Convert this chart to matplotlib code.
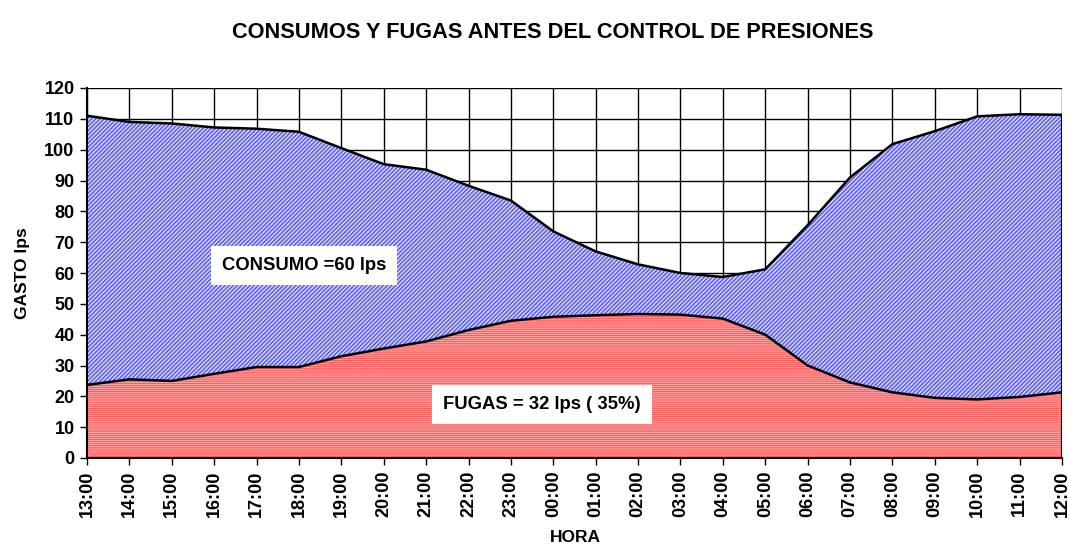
import matplotlib
matplotlib.use("Agg")
import matplotlib.pyplot as plt
import numpy as np

plt.rcParams['font.family'] = ['Liberation Sans', 'DejaVu Sans']
plt.rcParams['font.weight'] = 'bold'
plt.rcParams['hatch.linewidth'] = 1.0

horas = ["13:00", "14:00", "15:00", "16:00", "17:00", "18:00", "19:00", "20:00",
         "21:00", "22:00", "23:00", "00:00", "01:00", "02:00", "03:00", "04:00",
         "05:00", "06:00", "07:00", "08:00", "09:00", "10:00", "11:00", "12:00"]

# Gasto total suministrado (lps)
gasto_total = [111.0, 109.0, 108.5, 107.2, 106.8, 105.8, 100.5, 95.3,
               93.5, 88.3, 83.5, 73.5, 67.0, 62.8, 60.0, 58.7,
               61.2, 75.5, 91.0, 101.8, 106.0, 110.8, 111.5, 111.3]

# Fugas (lps)
fugas = [23.7, 25.5, 25.0, 27.3, 29.5, 29.5, 33.0, 35.5,
         37.8, 41.5, 44.5, 45.8, 46.3, 46.7, 46.5, 45.2,
         40.0, 30.0, 24.5, 21.3, 19.5, 19.0, 19.8, 21.3]

y_ticks = list(range(0, 121, 10))

fig = plt.figure(figsize=(10.69, 5.48), dpi=100)
ax = fig.add_axes([87 / 1069, (548 - 458) / 548, (1062 - 87) / 1069, (458 - 88) / 548])

x = np.arange(len(horas))

ax.set_axisbelow(True)
ax.grid(True, color='black', linewidth=1.0)

# Consumo: area between fugas and total
ax.fill_between(x, fugas, gasto_total, facecolor='#5c5cf6', edgecolor='#dadaff',
                hatch='////////', linewidth=0, zorder=2)
# Fugas: area from zero
ax.fill_between(x, 0, fugas, facecolor='#ff3e3e', edgecolor='#ffa0a0',
                hatch='--------', linewidth=0, zorder=2)

ax.plot(x, gasto_total, color='black', linewidth=1.8, zorder=3)
ax.plot(x, fugas, color='black', linewidth=1.8, zorder=3)
ax.vlines(x[-1], 0, gasto_total[-1], color='black', linewidth=1.5, zorder=3)

ax.set_xlim(0, len(horas) - 1)
ax.set_ylim(0, 120)
ax.set_yticks(y_ticks)
ax.set_xticks(x)
ax.set_xticklabels(horas, rotation=90, fontsize=13, fontweight='bold')
ax.set_yticklabels([str(v) for v in y_ticks], fontsize=13, fontweight='bold')
ax.tick_params(axis='both', length=5, width=1, color='black', pad=4)

for s in ['top', 'right']:
    ax.spines[s].set_visible(False)
for s in ['left', 'bottom']:
    ax.spines[s].set_linewidth(1.5)
    ax.spines[s].set_zorder(4)

ax.set_ylabel("GASTO lps", fontsize=12.5, fontweight='bold', labelpad=10)
fig.text(575 / 1069, 1 - 538 / 548, "HORA", fontsize=12.5, fontweight='bold',
         ha='center', va='center')

fig.suptitle("CONSUMOS Y FUGAS ANTES DEL CONTROL DE PRESIONES", fontsize=15.7,
             fontweight='bold', x=0.5175, y=1 - 32 / 548, va='center')

box = dict(boxstyle='square,pad=0.6', facecolor='white', edgecolor='none')
ax.text(5.12, 62.3, "CONSUMO =60 lps", fontsize=13.3, fontweight='bold',
        ha='center', va='center', bbox=box, zorder=5)
ax.text(10.74, 17.3, "FUGAS = 32 lps ( 35%)", fontsize=13.3, fontweight='bold',
        ha='center', va='center', bbox=box, zorder=5)

fig.savefig("out.png", dpi=100)
